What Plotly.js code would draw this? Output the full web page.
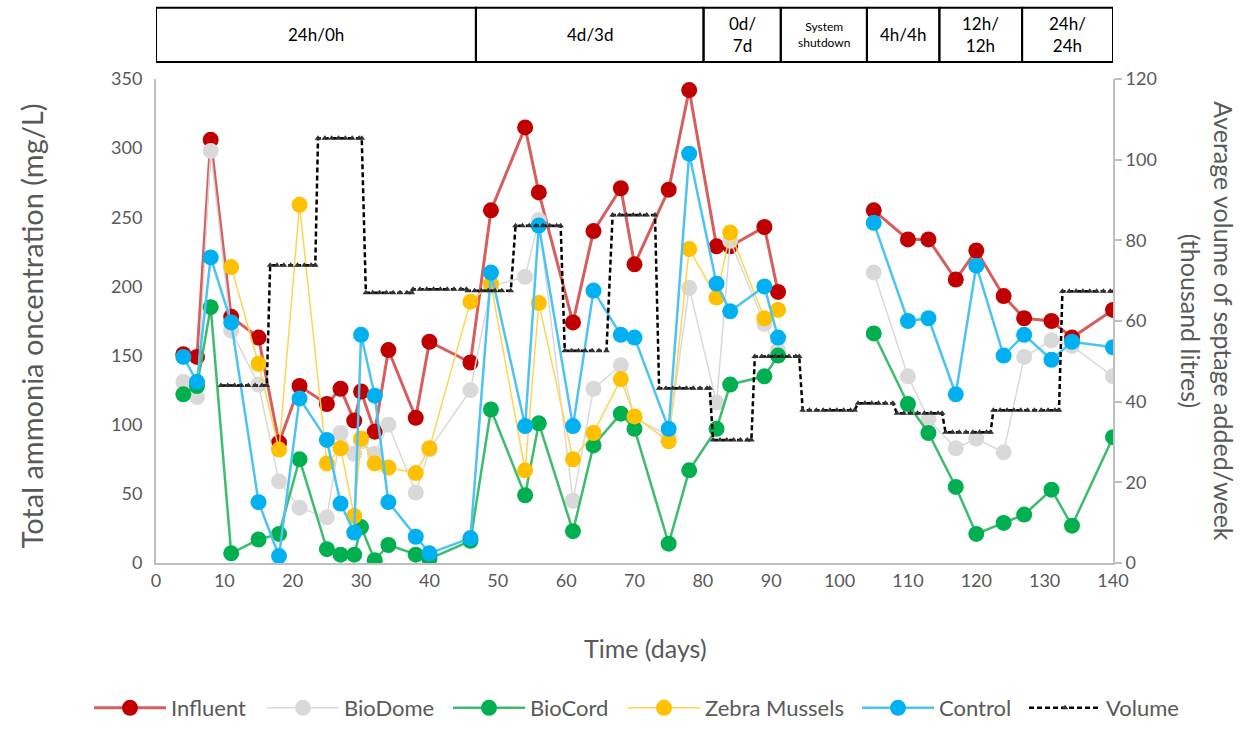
<!DOCTYPE html>
<html>
<head>
<meta charset="utf-8">
<script src="https://cdn.plot.ly/plotly-3.0.1.min.js"></script>
<style>
  html, body { margin: 0; padding: 0; background: #ffffff; }
  #chart { width: 1252px; height: 744px; }
</style>
</head>
<body>
<div id="chart"></div>
<script>
// Sampling days (days since start-up); day 98 is a null entry during the system shutdown
const days = [4, 6, 8, 11, 15, 18, 21, 25, 27, 29, 30, 32, 34, 38, 40, 46,
              49, 54, 56, 61, 64, 68, 70, 75, 78, 82, 84, 89, 91, 98,
              105, 110, 113, 117, 120, 124, 127, 131, 134, 140];

// Total ammonia (mg/L)
const influent = [151, 149, 306, 178, 163, 87, 128, 115, 126, 103, 124, 95, 154, 105, 160, 145,
                  255, 315, 268, 174, 240, 271, 216, 270, 342, 229, 229, 243, 196, null,
                  255, 234, 234, 205, 226, 193, 177, 175, 163, 183];
const bioDome = [131, 120, 298, 168, 129, 59, 40, 33, 94, 79, 88, 79, 100, 51, 82, 125,
                 200, 207, 248, 45, 126, 143, 105, 92, 199, 116, 233, 173, 154, null,
                 210, 135, 104, 83, 90, 80, 149, 161, 157, 135];
const bioCord = [122, 128, 185, 7, 17, 21, 75, 10, 6, 6, 26, 2, 13, 6, 3, 16,
                 111, 49, 101, 23, 85, 108, 97, 14, 67, 97, 129, 135, 150, null,
                 166, 115, 94, 55, 21, 29, 35, 53, 27, 91];
const zebraDays = [11, 15, 18, 21, 25, 27, 29, 30, 32, 34, 38, 40, 46,
                   49, 54, 56, 61, 64, 68, 70, 75, 78, 82, 84, 89, 91];
const zebraMussels = [214, 144, 82, 259, 72, 83, 34, 90, 72, 69, 65, 83, 189,
                      202, 67, 188, 75, 94, 133, 106, 88, 227, 192, 239, 177, 183];
const control = [149, 131, 221, 174, 44, 5, 119, 89, 43, 22, 165, 121, 44, 19, 7, 18,
                 210, 99, 244, 99, 197, 165, 163, 97, 296, 202, 182, 200, 163, null,
                 246, 175, 177, 122, 215, 150, 165, 147, 160, 156];

// Average septage volume added per week (thousand litres), one value per dosing period
const volStart = [9.5, 16.7, 23.7, 30.7, 37.6, 45.6, 52.6, 59.8, 66.8, 73.6, 81.5, 87.6, 94.6, 102.7, 108.4, 115.5, 122.5, 132.6];
const volEnd   = [16.2, 23.3, 30.1, 37.4, 45.4, 51.9, 59.2, 65.9, 73.0, 81.0, 87.1, 94.1, 102.2, 107.8, 115.0, 122.1, 132.1, 140.1];
const volValue = [44, 73.8, 105.3, 67.0, 67.9, 67.5, 83.6, 52.6, 86.3, 43.3, 30.5, 51.2, 37.9, 39.6, 37.1, 32.4, 37.9, 67.4];

// Operating regimes shown in the header strip (boundaries in days)
const phaseEdges = [0, 46.8, 80.1, 91.4, 104, 114.6, 126.7, 140];
const phaseLabels = ['24h/0h', '4d/3d', '0d/<br>7d', 'System<br>shutdown', '4h/4h', '12h/<br>12h', '24h/<br>24h'];

// Daily points along each constant-volume period
const volX = [], volY = [];
for (let i = 0; i < volStart.length; i++) {
  let d = volStart[i];
  while (d < volEnd[i] - 0.3) { volX.push(d); volY.push(volValue[i]); d += 1; }
  volX.push(volEnd[i]); volY.push(volValue[i]);
}

const FONT = 'Lato, "Open Sans", sans-serif';
const GREY = '#595959';

function series(name, x, y, markerColor, lineColor, lineWidth, legendId, legendWidth) {
  return {
    type: 'scatter', mode: 'lines+markers', name: name, x: x, y: y,
    connectgaps: false,
    line: { color: lineColor, width: lineWidth },
    marker: { color: markerColor, size: 16, symbol: 'circle' },
    yaxis: 'y', legend: legendId, legendwidth: legendWidth
  };
}

const traces = [
  series('Influent', days, influent, '#c00000', 'rgba(200,40,40,0.75)', 3, 'legend', 86),
  series('BioDome', days, bioDome, '#d9d9d9', '#d9d9d9', 1.5, 'legend', 99),
  series('BioCord', days, bioCord, '#00b050', '#3dbd6c', 2.5, 'legend', 87),
  series('Zebra Mussels', zebraDays, zebraMussels, '#ffc000', '#ffd455', 1.5, 'legend2', 147),
  series('Control', days, control, '#00b0f0', '#4cc3f2', 2.5, 'legend2', 80),
  {
    type: 'scatter', mode: 'lines+markers', name: 'Volume', x: volX, y: volY,
    yaxis: 'y2', legend: 'legend2',
    line: { color: '#000000', width: 2.5, dash: '5px,3px' },
    marker: { color: '#333333', size: 6, symbol: 'triangle-up' }
  }
];

const shapes = [], annotations = [];
for (let i = 0; i < phaseLabels.length; i++) {
  shapes.push({
    type: 'rect', xref: 'x', yref: 'paper',
    x0: phaseEdges[i], x1: phaseEdges[i + 1], y0: 1.035, y1: 1.147,
    line: { color: '#000000', width: 2 }, fillcolor: 'rgba(0,0,0,0)'
  });
  const small = phaseLabels[i].indexOf('System') === 0;
  annotations.push({
    xref: 'x', yref: 'paper',
    x: (phaseEdges[i] + phaseEdges[i + 1]) / 2, y: 1.091,
    text: phaseLabels[i], showarrow: false,
    font: { family: FONT, size: small ? 12 : 17, color: '#000000' },
    xanchor: 'center', yanchor: 'middle'
  });
}

annotations.push({
  xref: 'paper', yref: 'paper', x: 0.511, y: -0.175,
  text: 'Time (days)', showarrow: false,
  font: { family: FONT, size: 25, color: GREY }, xanchor: 'center', yanchor: 'middle'
});
annotations.push({
  xref: 'paper', yref: 'paper', x: -0.13, y: 0.49,
  text: 'Total ammonia oncentration (mg/L)', showarrow: false, textangle: -90,
  font: { family: FONT, size: 29, color: GREY }, xanchor: 'center', yanchor: 'middle'
});
annotations.push({
  xref: 'paper', yref: 'paper', x: 1.099, y: 0.5,
  text: 'Average volume of septage added/week<br>(thousand litres)', showarrow: false, textangle: 90,
  font: { family: FONT, size: 25, color: GREY }, xanchor: 'center', yanchor: 'middle'
});

const legendBase = {
  orientation: 'h', xref: 'paper', yref: 'paper',
  xanchor: 'left', y: -0.2996, yanchor: 'middle',
  font: { family: FONT, size: 22, color: GREY }, itemwidth: 72,
  traceorder: 'normal', bgcolor: 'rgba(0,0,0,0)'
};

const layout = {
  width: 1252, height: 744,
  paper_bgcolor: '#ffffff', plot_bgcolor: '#ffffff',
  margin: { l: 156, r: 139, t: 79, b: 181, autoexpand: false },
  font: { family: FONT, color: GREY, size: 17 },
  showlegend: true,
  legend: Object.assign({}, legendBase, { x: (89 - 156) / 957 }),
  legend2: Object.assign({}, legendBase, { x: (623 - 156) / 957 }),
  xaxis: {
    range: [0, 140], dtick: 10, tick0: 0, showgrid: false, zeroline: false,
    showline: true, linecolor: '#bfbfbf', linewidth: 2, ticks: '',
    tickfont: { family: FONT, size: 18, color: GREY }
  },
  yaxis: {
    range: [0, 350], dtick: 50, showgrid: false, zeroline: false,
    showline: true, linecolor: '#bfbfbf', linewidth: 2, ticks: '',
    ticklabelstandoff: 8,
    tickfont: { family: FONT, size: 18, color: GREY }
  },
  yaxis2: {
    range: [0, 120], dtick: 20, overlaying: 'y', side: 'right',
    showgrid: false, zeroline: false,
    showline: true, linecolor: '#bfbfbf', linewidth: 2,
    ticks: 'outside', ticklen: 7, tickcolor: '#bfbfbf', tickwidth: 2,
    tickfont: { family: FONT, size: 18, color: GREY }
  },
  shapes: shapes,
  annotations: annotations
};

Plotly.newPlot('chart', traces, layout, { displayModeBar: false, staticPlot: true });
</script>
</body>
</html>
